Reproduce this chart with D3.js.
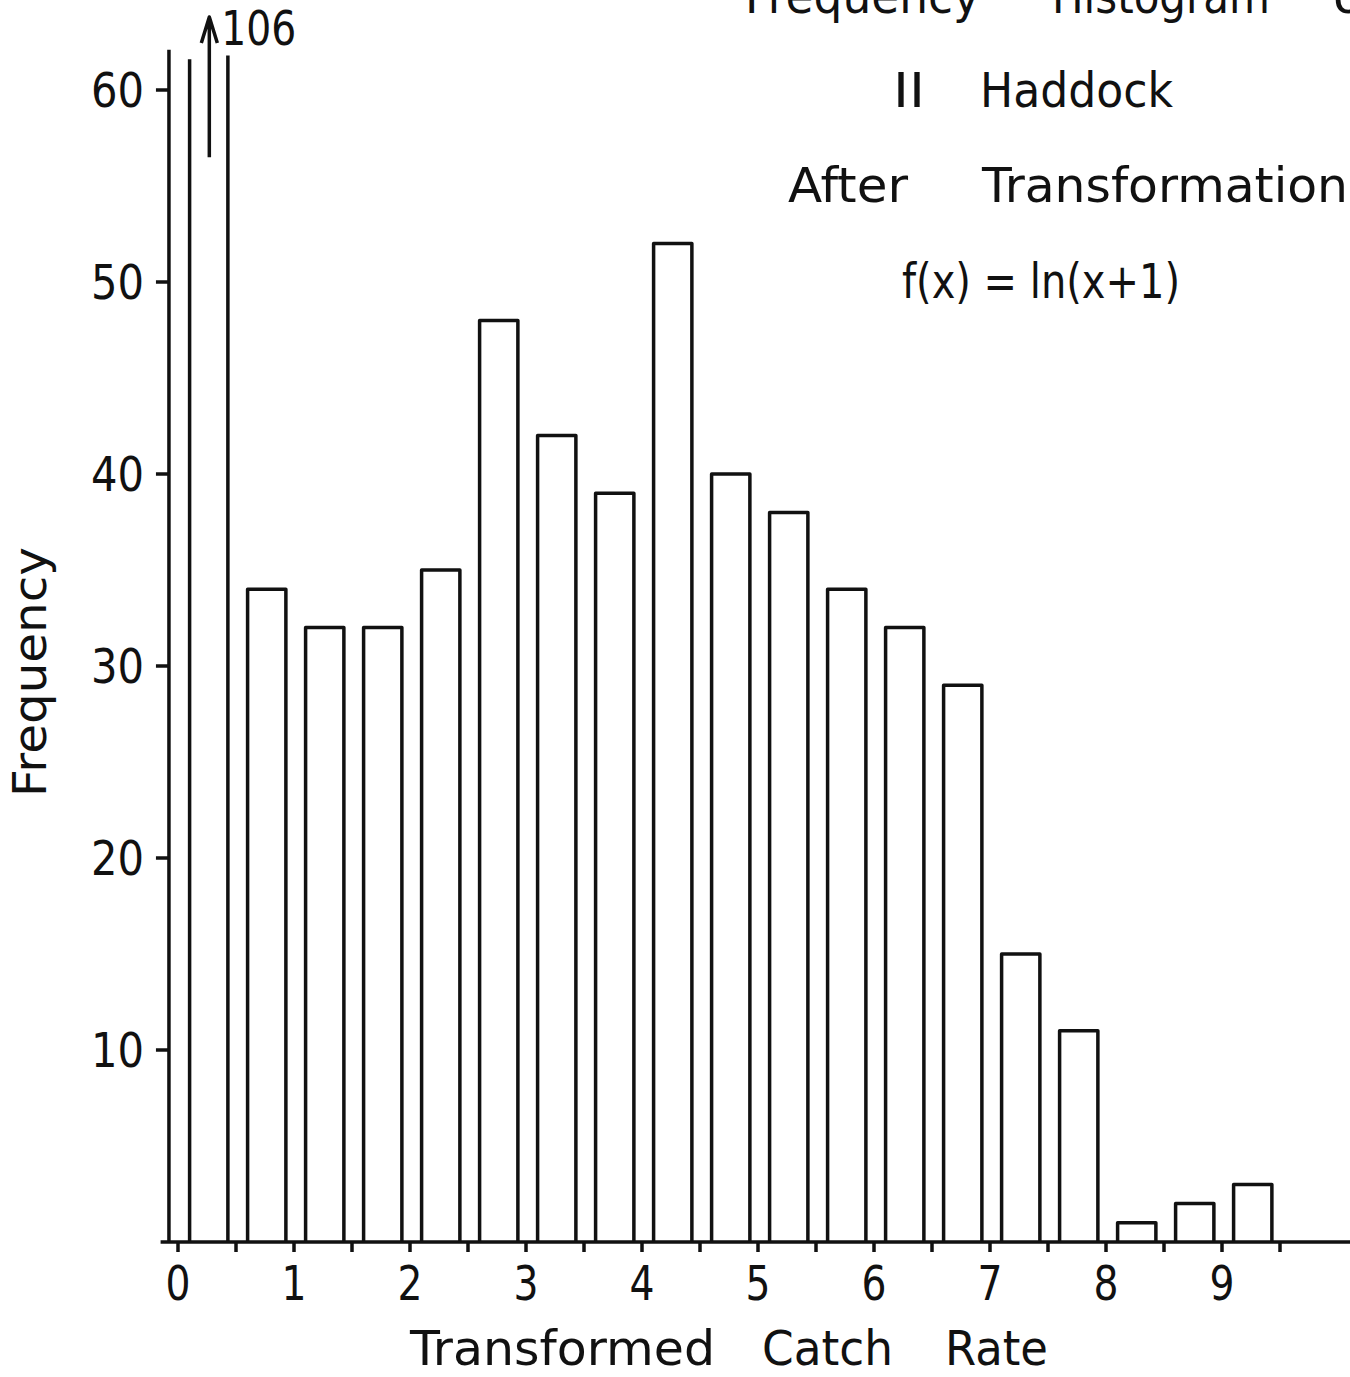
<!DOCTYPE html>
<html>
<head>
<meta charset="utf-8">
<script src="https://cdn.jsdelivr.net/npm/d3@7"></script>
<style>
  html, body { margin: 0; padding: 0; background: #fff; }
  text { font-family: "DejaVu Sans", sans-serif; fill: #111; }
</style>
</head>
<body>
<div id="chart"></div>
<script>
// HISTOGRAM — Haddock catch rates after ln(x+1)

// Data
const binStarts = [0, 0.5, 1, 1.5, 2, 2.5, 3, 3.5, 4, 4.5, 5, 5.5, 6, 6.5, 7, 7.5, 8, 8.5, 9];
const counts    = [106, 34, 32, 32, 35, 48, 42, 39, 52, 40, 38, 34, 32, 29, 15, 11, 1, 2, 3];
const yTicks    = [10, 20, 30, 40, 50, 60];
const xLabels   = [0, 1, 2, 3, 4, 5, 6, 7, 8, 9];
const xMinor    = [0, 0.5, 1, 1.5, 2, 2.5, 3, 3.5, 4, 4.5, 5, 5.5, 6, 6.5, 7, 7.5, 8, 8.5, 9, 9.5];

const width = 1350, height = 1377;
const ink = "#111";
const lw  = 3.5;

const x = d3.scaleLinear().domain([0, 9]).range([178, 1222]);
const y = d3.scaleLinear().domain([0, 60]).range([1242, 90]);

const yClip = 61.6;   // top of the broken first bar
const yAxisTop = 62.1;

const svg = d3.select("#chart").append("svg")
    .attr("width", width).attr("height", height)
    .style("display", "block");

// helper: text squeezed to a measured width
function label(g, str, px, py, len, anchor) {
    return g.append("text")
        .attr("x", px).attr("y", py)
        .attr("font-size", 48)
        .attr("text-anchor", anchor || "start")
        .attr("textLength", len)
        .attr("lengthAdjust", "spacingAndGlyphs")
        .text(str);
}

// Bars
const gBars = svg.append("g")
    .attr("fill", "none").attr("stroke", ink)
    .attr("stroke-width", lw).attr("stroke-linejoin", "round");

gBars.selectAll("path.bar")
    .data(binStarts.map((s, i) => ({ s, n: counts[i] })))
    .join("path")
    .attr("class", "bar")
    .attr("d", d => {
        const l = x(d.s + 0.1), r = x(d.s + 0.43), b = y(0);
        if (d.n > yClip) {
            // off the scale: two open sides, no top
            return `M${l},${b}V${y(yClip)}M${r},${b}V${y(yClip + 0.2)}`;
        }
        return `M${l},${b}V${y(d.n)}H${r}V${b}`;
    });

// Arrow + count for the off-scale bar
const big = { s: binStarts[0], n: counts[0] };
const ax = x(big.s + 0.27);
gBars.append("path")
    .attr("d", `M${ax},${y(56.5)}V17M${ax - 8},43L${ax},17L${ax + 8},43`);
label(svg, String(big.n), ax + 12, 45, 75);

// Axes
const gAxes = svg.append("g")
    .attr("stroke", ink).attr("stroke-width", lw).attr("fill", "none");

gAxes.append("line")
    .attr("x1", x(-0.078)).attr("x2", x(-0.078))
    .attr("y1", y(0)).attr("y2", y(yAxisTop));
gAxes.append("line")
    .attr("x1", x(-0.15)).attr("x2", width)
    .attr("y1", y(0)).attr("y2", y(0));

gAxes.selectAll("line.ytick")
    .data(yTicks).join("line")
    .attr("class", "ytick")
    .attr("x1", x(-0.078) - 13).attr("x2", x(-0.078))
    .attr("y1", d => y(d)).attr("y2", d => y(d));

gAxes.selectAll("line.xtick")
    .data(xMinor).join("line")
    .attr("class", "xtick")
    .attr("x1", d => x(d)).attr("x2", d => x(d))
    .attr("y1", y(0)).attr("y2", y(0) + 10);

// Tick labels
const gLab = svg.append("g");
yTicks.forEach(v => label(gLab, String(v), 144, y(v) + 17, 53, "end"));
xLabels.forEach(v => label(gLab, String(v), x(v), 1300, 25, "middle"));

// Axis titles
label(svg, "Transformed", 410, 1365, 305);
label(svg, "Catch", 762, 1365, 131);
label(svg, "Rate", 945, 1365, 103);

svg.append("text")
    .attr("transform", "translate(46,797) rotate(-90)")
    .attr("font-size", 46)
    .attr("textLength", 250)
    .attr("lengthAdjust", "spacingAndGlyphs")
    .text("Frequency");

// Title block (first line is cut by the page edge, as in the original)
label(svg, "Frequency", 745, 13, 235);
label(svg, "Histogram", 1052, 13, 218);
label(svg, "of", 1333, 13, 48);
label(svg, "II", 893, 107, 32);
label(svg, "Haddock", 980, 107, 193);
label(svg, "After", 788, 202, 120);
label(svg, "Transformation", 982, 202, 366);
label(svg, "f(x) = ln(x+1)", 902, 298, 278);
</script>
</body>
</html>
